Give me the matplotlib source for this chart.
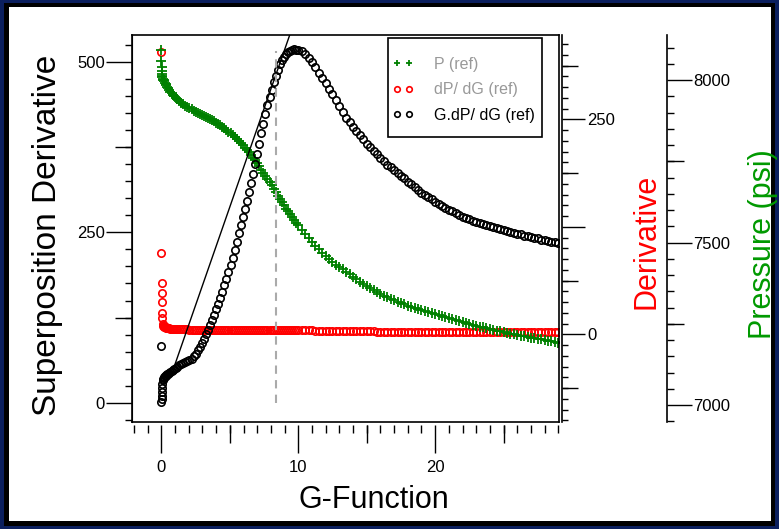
import matplotlib
matplotlib.use("Agg")
import matplotlib.pyplot as plt
from matplotlib.patches import Rectangle
from matplotlib.ticker import FixedLocator, FixedFormatter, MultipleLocator, NullLocator

plt.rcParams["font.family"] = ["Liberation Sans", "DejaVu Sans"]

# G-function sample points (shared by all three series)
g_function = [
    0.0, 0.003, 0.008, 0.015, 0.025, 0.04, 0.06, 0.09,
    0.12, 0.16, 0.2, 0.25, 0.3, 0.36, 0.42, 0.5, 0.58, 0.66, 0.75, 0.85, 0.95, 1.05, 1.15,
    1.3, 1.45, 1.6, 1.75, 1.9, 2.05, 2.2, 2.35, 2.5, 2.65,
    2.8, 2.95, 3.1, 3.25, 3.4, 3.55, 3.7, 3.85, 4.0, 4.15,
    4.3, 4.45, 4.6, 4.75, 4.9, 5.05, 5.2, 5.35, 5.5, 5.65,
    5.8, 5.95, 6.1, 6.25, 6.4, 6.55, 6.7, 6.85, 7.0, 7.15,
    7.3, 7.45, 7.6, 7.75, 7.9, 8.05, 8.2, 8.35, 8.5, 8.65,
    8.8, 8.95, 9.1, 9.25, 9.4, 9.55, 9.7, 9.85, 10.0,
    10.25, 10.5, 10.75, 11.0, 11.25, 11.5, 11.75, 12.0, 12.25, 12.5,
    12.75, 13.0, 13.25, 13.5, 13.75, 14.0, 14.25, 14.5, 14.75, 15.0,
    15.25, 15.5, 15.75, 16.0, 16.25, 16.5, 16.75, 17.0, 17.25, 17.5,
    17.75, 18.0, 18.25, 18.5, 18.75, 19.0, 19.25, 19.5, 19.75, 20.0,
    20.25, 20.5, 20.75, 21.0, 21.25, 21.5, 21.75, 22.0, 22.25, 22.5,
    22.75, 23.0, 23.25, 23.5, 23.75, 24.0, 24.25, 24.5, 24.75, 25.0,
    25.25, 25.5, 25.75, 26.0, 26.25, 26.5, 26.75, 27.0, 27.25, 27.5,
    27.75, 28.0, 28.25, 28.5, 28.75, 29.0,
]

# P (ref), psi
pressure_psi = [
    8092, 8060, 8040, 8028, 8020, 8014, 8009, 8005,
    8002, 7999, 7996, 7992, 7988, 7984, 7980, 7975, 7970, 7965, 7960, 7955, 7950, 7945, 7941,
    7936, 7931, 7926, 7922, 7918, 7914, 7910, 7906, 7903, 7900,
    7897, 7893, 7890, 7887, 7884, 7880, 7877, 7873, 7869, 7865,
    7861, 7857, 7852, 7847, 7842, 7837, 7831, 7825, 7819, 7813,
    7806, 7799, 7792, 7785, 7778, 7770, 7762, 7753, 7744, 7735,
    7725, 7715, 7706, 7696, 7686, 7676, 7665, 7655, 7645, 7635,
    7625, 7615, 7605, 7596, 7587, 7578, 7569, 7561, 7553,
    7540, 7527, 7513, 7501, 7490, 7479, 7469, 7459, 7450, 7441,
    7432, 7425, 7418, 7410, 7402, 7395, 7387, 7380, 7373, 7366,
    7360, 7354, 7348, 7343, 7337, 7332, 7328, 7323, 7318, 7314,
    7310, 7306, 7302, 7299, 7296, 7292, 7289, 7286, 7283, 7280,
    7277, 7273, 7270, 7267, 7264, 7261, 7258, 7255, 7252, 7249,
    7246, 7244, 7241, 7239, 7236, 7234, 7232, 7229, 7227, 7225,
    7222, 7220, 7218, 7216, 7214, 7212, 7210, 7208, 7206, 7204,
    7202, 7200, 7198, 7196, 7194, 7192,
]

# dP/dG (ref)
dp_dg = [
    328, 94, 60, 48, 38, 25, 18.6, 12,
    10, 9.5, 9, 8.5, 8, 7.5, 7.2, 7, 6.8, 6.6, 6.4, 6.3, 6.2, 6.1, 6.0,
    5.8, 5.7, 5.7, 5.6, 5.6, 5.5, 5.5, 5.5, 5.4, 5.4,
    5.4, 5.3, 5.3, 5.3, 5.3, 5.2, 5.2, 5.2, 5.2, 5.2,
    5.1, 5.1, 5.1, 5.1, 5.1, 5.1, 5.0, 5.0, 5.0, 5.0,
    5.0, 5.0, 5.0, 5.0, 5.0, 5.0, 5.0, 5.0, 5.0, 5.0,
    5.0, 5.0, 5.0, 5.0, 5.0, 5.0, 5.0, 5.0, 5.0, 5.0,
    5.0, 5.0, 5.0, 5.0, 4.9, 4.9, 4.9, 4.9, 4.9,
    4.9, 4.9, 4.9, 4.9, 4.2, 4.2, 4.2, 4.2, 4.2, 4.2,
    4.2, 4.2, 4.2, 4.2, 4.2, 4.2, 4.2, 4.2, 4.2, 4.2,
    4.2, 4.2, 3.2, 3.2, 3.2, 3.2, 3.2, 3.2, 3.2, 3.2,
    3.2, 3.2, 3.1, 3.1, 3.1, 3.1, 3.1, 3.1, 3.1, 3.1,
    3.1, 3.1, 3.1, 3.0, 3.0, 3.0, 3.0, 3.0, 3.0, 3.0,
    3.0, 3.0, 3.0, 3.0, 3.0, 2.9, 2.9, 2.9, 2.9, 2.9,
    2.9, 2.9, 2.9, 2.9, 2.9, 2.9, 2.8, 2.8, 2.8, 2.8,
    2.8, 2.8, 2.8, 2.8, 2.8, 2.8,
]

# G.dP/dG (ref)
g_dp_dg = [
    2, 84, 5, 10, 16, 22, 28, 33,
    35, 37, 38, 39, 40, 41, 42, 43, 44, 45, 46.5, 48, 49.5, 51, 52.5,
    55, 56.5, 58, 59.5, 61, 63, 65, 68, 72, 77,
    82, 88, 94, 101, 107, 114, 121, 129, 137, 145,
    154, 163, 172, 181, 192, 202, 213, 224, 236, 249,
    261, 273, 284, 296, 309, 322, 335, 350, 365, 380,
    395, 409, 423, 436, 448, 459, 470, 479, 488, 496,
    502, 507, 511, 514, 516, 517, 518, 517.5, 517,
    515, 511, 506, 499, 492, 484, 476, 468, 460, 452,
    444, 435, 426, 418, 411, 404, 398, 392, 386, 380,
    375, 369, 364, 359, 354, 349, 345, 341, 337, 333,
    329, 324, 320, 316, 312, 308, 305, 301, 298, 294,
    292, 289, 286, 283, 281, 278, 276, 273, 271, 269,
    267, 265, 264, 262, 261, 259, 258, 256, 255, 253,
    252, 251, 249, 248, 247, 245, 244, 243, 242, 241,
    239, 238, 237, 236, 235, 234,
]

# straight line through the origin on G.dP/dG, and closure pick
tangent_g = [1.0, 9.6]
tangent_val = [57, 552]
closure_g = 8.38
closure_top = 515

W, H = 779, 529
fig = plt.figure(figsize=(W / 100, H / 100), dpi=100, facecolor="#0b1f5e")
fig.patches.append(Rectangle((4 / W, 3 / H), 771 / W, 523 / H, transform=fig.transFigure,
                             facecolor="black", edgecolor="none", zorder=-3))
fig.patches.append(Rectangle((9 / W, 8 / H), 762 / W, 514 / H, transform=fig.transFigure,
                             facecolor="white", edgecolor="none", zorder=-2))

ax = fig.add_axes([132 / W, 107 / H, 427 / W, 387 / H])
ax2 = ax.twinx()
ax3 = ax.twinx()
for a in (ax, ax2, ax3):
    a.patch.set_visible(False)
ax.set_zorder(3)
ax2.set_zorder(1)
ax3.set_zorder(2)

ax.set_xlim(-2.15, 29.05)
ax.set_ylim(-28, 539)
ax2.set_ylim(-102, 348)
ax3.set_ylim(6948, 8139)

for s in ax.spines.values():
    s.set_linewidth(1.2)

# data
h_p, = ax3.plot(g_function, pressure_psi, ls="none", marker="+", color="#008000",
                ms=6.5, mew=1.3, label="P (ref)")
h_d, = ax2.plot(g_function, dp_dg, ls="none", marker="o", mfc="none", mec="#ff0000",
                ms=5.3, mew=1.2, label="dP/ dG (ref)")
h_g, = ax.plot(g_function, g_dp_dg, ls="none", marker="o", mfc="none", mec="black",
               ms=5.3, mew=1.2, label="G.dP/ dG (ref)")
ax.plot(tangent_g, tangent_val, color="black", lw=1.0)
ax.plot([closure_g, closure_g], [0, closure_top], color="#aaaaaa", lw=1.5, ls=(0, (4, 3)))

# left axis
ax.yaxis.set_major_locator(FixedLocator([0, 250, 500]))
ax.yaxis.set_minor_locator(MultipleLocator(25))
ax.tick_params(axis="y", which="major", length=18.5, width=1, labelsize=12, pad=1)
ax.tick_params(axis="y", which="minor", length=5, width=1)
sy = ax.secondary_yaxis("left")
sy.set_yticks([125, 375])
sy.yaxis.set_minor_locator(NullLocator())
sy.tick_params(length=12, width=1, labelleft=False)
ax.set_ylabel("Superposition Derivative", fontsize=24, va="center")
ax.yaxis.set_label_coords((47 - 132) / 427, (422 - 235) / 387)

# bottom axis, slightly below the frame
ax.tick_params(axis="x", which="both", bottom=False, labelbottom=False)
sx = ax.secondary_xaxis(-3 / 387)
sx.spines["bottom"].set_visible(False)
sx.set_xticks([0, 10, 20])
sx.xaxis.set_minor_locator(MultipleLocator(1))
sx.tick_params(which="major", length=20, width=1, labelsize=12, pad=5)
sx.tick_params(which="minor", length=5.5, width=1)
sx2 = ax.secondary_xaxis(-3 / 387)
sx2.spines["bottom"].set_visible(False)
sx2.set_xticks([5, 15, 25])
sx2.xaxis.set_minor_locator(NullLocator())
sx2.tick_params(length=13, width=1, labelbottom=False)
ax.set_xlabel("G-Function", fontsize=22, va="center")
ax.xaxis.set_label_coords((374 - 132) / 427, (422 - 500) / 387)

# derivative axis
for k in ("top", "bottom", "left"):
    ax2.spines[k].set_visible(False)
    ax3.spines[k].set_visible(False)
d_pos = 1 + 3 / 427
ax2.spines["right"].set_position(("axes", d_pos))
ax2.spines["right"].set_linewidth(1.2)
ax2.yaxis.set_major_locator(FixedLocator([0, 125, 250]))
ax2.yaxis.set_major_formatter(FixedFormatter(["0", "", "250"]))
ax2.yaxis.set_minor_locator(MultipleLocator(12.5))
ax2.tick_params(axis="y", which="major", length=16.5, width=1, labelsize=12, pad=1.5)
ax2.tick_params(axis="y", which="minor", length=4.3, width=1)
sd = ax2.secondary_yaxis(d_pos)
sd.spines["right"].set_visible(False)
sd.set_yticks([-62.5, 62.5, 187.5, 312.5])
sd.yaxis.set_minor_locator(NullLocator())
sd.tick_params(length=11.5, width=1, labelright=False)
ax2.set_ylabel("Derivative", fontsize=22, color="#ff0000", va="center", rotation=90)
ax2.yaxis.set_label_coords((647 - 132) / 427, (422 - 241) / 387)

# pressure axis
p_pos = (667 - 132) / 427
ax3.spines["right"].set_position(("axes", p_pos))
ax3.spines["right"].set_linewidth(1.2)
ax3.yaxis.set_major_locator(FixedLocator([7000, 7500, 8000]))
ax3.yaxis.set_minor_locator(MultipleLocator(50))
ax3.tick_params(axis="y", which="major", length=18, width=1, labelsize=12, pad=1)
ax3.tick_params(axis="y", which="minor", length=5, width=1)
sp = ax3.secondary_yaxis(p_pos)
sp.spines["right"].set_visible(False)
sp.set_yticks([7250, 7750])
sp.yaxis.set_minor_locator(NullLocator())
sp.tick_params(length=12, width=1, labelright=False)
ax3.set_ylabel("Pressure (psi)", fontsize=22, color="#009900", va="center", rotation=90)
ax3.yaxis.set_label_coords((763 - 132) / 427, (422 - 244) / 387)

# legend: entries from matplotlib, frame drawn as its own box under them
ax.add_patch(Rectangle((388 / W, 1 - 137 / H), 154 / W, 99 / H, transform=fig.transFigure,
                       facecolor="white", edgecolor="black", lw=1.2, zorder=4, clip_on=False))
leg = ax.legend([h_p, h_d, h_g], ["P (ref)", "dP/ dG (ref)", "G.dP/ dG (ref)"],
                loc="upper left", bbox_to_anchor=(387.5 / W, 1 - 52 / H),
                bbox_transform=fig.transFigure, numpoints=2, handlelength=1.36,
                handletextpad=1.25, borderpad=0.3, labelspacing=0.65, frameon=False,
                fontsize=11.5, borderaxespad=0)
leg.set_zorder(6)
for t, c in zip(leg.get_texts(), ["#999999", "#999999", "black"]):
    t.set_color(c)
for h in leg.legend_handles:
    h.set_markersize(4)

fig.savefig("out.png", dpi=100, facecolor=fig.get_facecolor())
